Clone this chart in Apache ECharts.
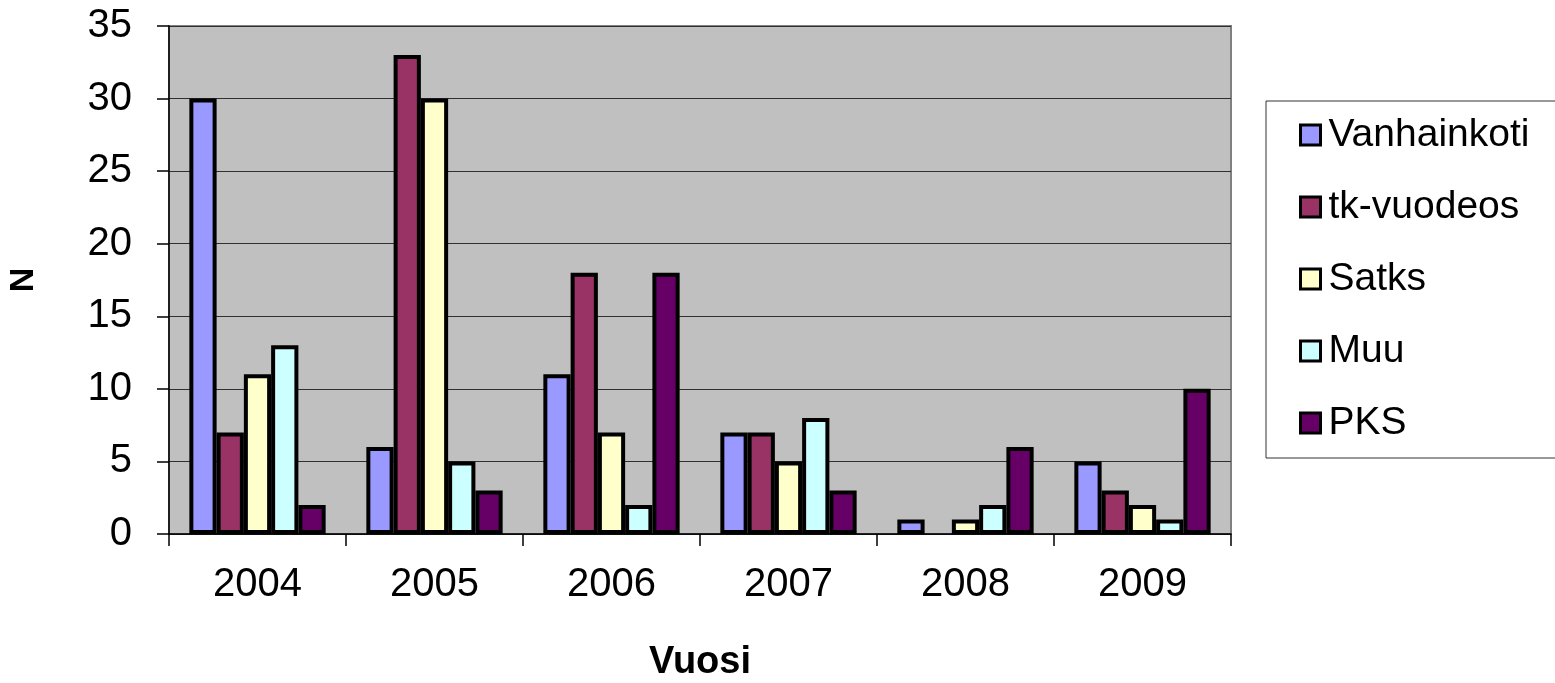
<!DOCTYPE html>
<html>
<head>
<meta charset="utf-8">
<script src="https://cdn.jsdelivr.net/npm/echarts@6/dist/echarts.min.js"></script>
<style>
  html, body { margin: 0; padding: 0; background: #ffffff; }
  #chart { width: 1555px; height: 683px; }
</style>
</head>
<body>
<div id="chart"></div>
<script>
// Years on the category axis
const years = ['2004', '2005', '2006', '2007', '2008', '2009'];

// Counts per year for each place of care
const vanhainkoti = [30, 6, 11, 7, 1, 5];
const tkVuodeos   = [7, 33, 18, 7, 0, 3];
const satks       = [11, 30, 7, 5, 1, 2];
const muu         = [13, 5, 2, 8, 2, 1];
const pks         = [2, 3, 18, 3, 6, 10];

const seriesNames  = ['Vanhainkoti', 'tk-vuodeos', 'Satks', 'Muu', 'PKS'];
const seriesValues = [vanhainkoti, tkVuodeos, satks, muu, pks];
const seriesColors = ['#9999FF', '#993366', '#FFFFCC', '#CCFFFF', '#660066'];

// Y axis tick settings
const yMin = 0, yMax = 35, yStep = 5;

const FONT = '"Liberation Sans", Arial, sans-serif';

const chart = echarts.init(document.getElementById('chart'), null, { renderer: 'canvas' });

chart.setOption({
  animation: false,
  backgroundColor: '#ffffff',
  grid: {
    left: 169, right: 324, top: 26, bottom: 149,
    outerBoundsMode: 'none',
    containLabel: false,
    show: true,
    backgroundColor: '#C0C0C0',
    borderColor: '#808080',
    borderWidth: 2
  },
  legend: {
    orient: 'vertical',
    left: 1266,
    top: 101,
    padding: [12, 60, 13, 33],
    itemGap: 28,
    itemWidth: 20,
    itemHeight: 20,
    icon: 'rect',
    backgroundColor: '#ffffff',
    borderColor: '#333333',
    borderWidth: 1,
    borderRadius: 0,
    itemStyle: { borderColor: '#000', borderWidth: 3 },
    textStyle: { fontFamily: FONT, fontSize: 39, color: '#000', lineHeight: 44, padding: [0, 0, 0, 3] },
    data: seriesNames
  },
  xAxis: {
    type: 'category',
    data: years,
    name: 'Vuosi',
    nameLocation: 'middle',
    nameGap: 110,
    nameTextStyle: { fontFamily: FONT, fontSize: 38, fontWeight: 'bold', color: '#000' },
    axisLine: { lineStyle: { color: '#000', width: 1.5 } },
    axisTick: { show: true, length: 12, lineStyle: { color: '#000', width: 1.5 } },
    axisLabel: { fontFamily: FONT, fontSize: 40, color: '#000', margin: 31 },
    splitLine: { show: false }
  },
  yAxis: {
    type: 'value',
    min: yMin, max: yMax, interval: yStep,
    name: 'N',
    nameLocation: 'middle',
    nameGap: 128,
    nameRotate: 90,
    nameTextStyle: { fontFamily: FONT, fontSize: 34, fontWeight: 'bold', color: '#000' },
    axisLine: { show: true, lineStyle: { color: '#000', width: 1.5 } },
    axisTick: { show: true, length: 12, lineStyle: { color: '#000', width: 1.5 } },
    axisLabel: { fontFamily: FONT, fontSize: 40, color: '#000', margin: 37 },
    splitLine: { show: true, lineStyle: { color: '#303030', width: 1.2 } }
  },
  series: seriesNames.map((name, i) => ({
    name: name,
    type: 'bar',
    barGap: '0%',
    barCategoryGap: '23%',
    data: seriesValues[i].map(v => (v === 0 ? null : v)),
    itemStyle: {
      color: seriesColors[i],
      borderColor: '#000',
      borderWidth: 4
    }
  }))
});
</script>
</body>
</html>
